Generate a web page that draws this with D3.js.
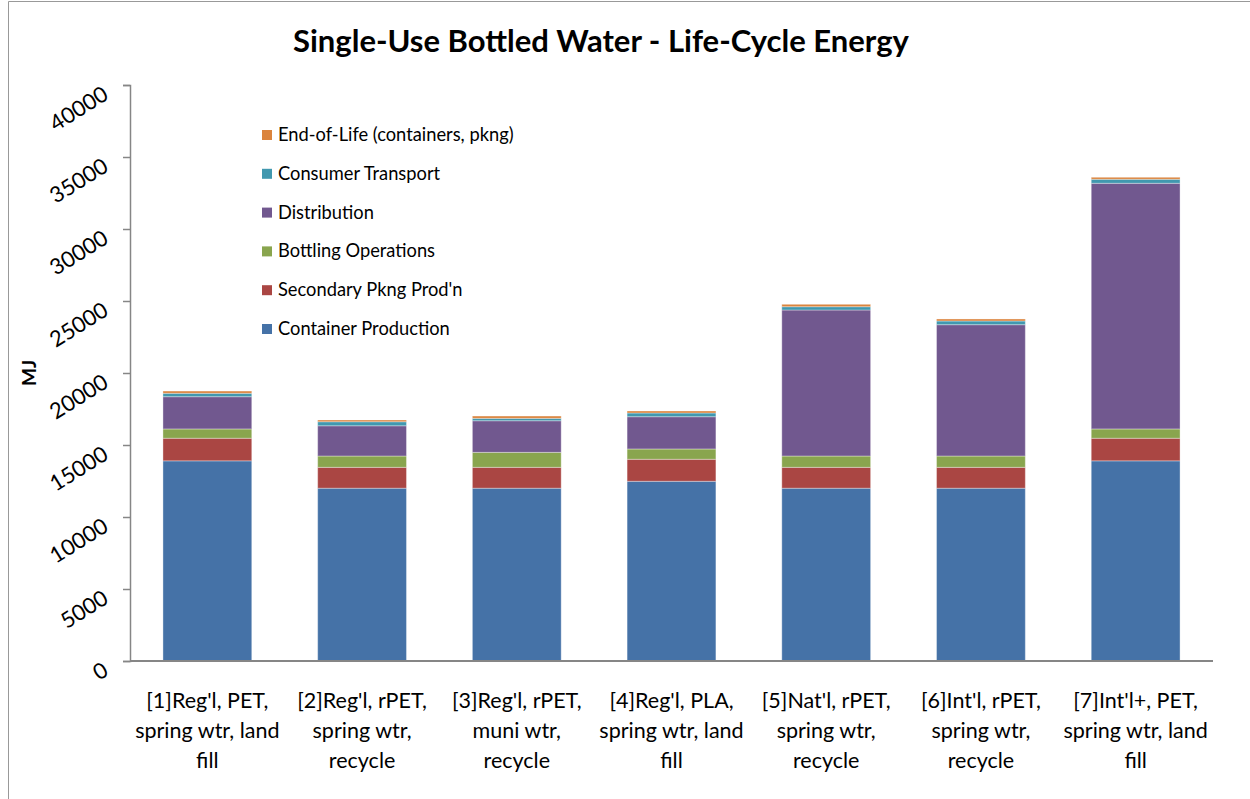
<!DOCTYPE html>
<html>
<head>
<meta charset="utf-8">
<script src="https://cdn.jsdelivr.net/npm/d3@7"></script>
<style>
  body { margin: 0; background: #fff; }
  svg { font-family: Lato, "Open Sans", sans-serif; }
</style>
</head>
<body>
<div id="chart"></div>
<script>
const categories = ["c1", "c2", "c3", "c4", "c5", "c6", "c7"];
const categoryLines = [
    ["[1]Reg'l, PET,", "spring wtr,  land", "fill"],
    ["[2]Reg'l, rPET,", "spring wtr,", "recycle"],
    ["[3]Reg'l, rPET,", "muni wtr,", "recycle"],
    ["[4]Reg'l, PLA,", "spring wtr,  land", "fill"],
    ["[5]Nat'l,  rPET,", "spring wtr,", "recycle"],
    ["[6]Int'l, rPET,", "spring wtr,", "recycle"],
    ["[7]Int'l+, PET,", "spring wtr, land", "fill"]
];
const seriesNames = ["Container Production", "Secondary Pkng Prod'n", "Bottling Operations",
    "Distribution", "Consumer Transport", "End-of-Life (containers, pkng)"];
const containerProduction = [13900, 12000, 12000, 12480, 12000, 12000, 13900];
const secondaryPkng       = [1570, 1450, 1450, 1530, 1450, 1450, 1570];
const bottlingOperations  = [645, 785, 1040, 715, 785, 785, 645];
const distribution        = [2240, 2100, 2195, 2240, 10140, 9120, 17060];
const consumerTransport   = [236, 280, 166, 257, 229, 257, 278];
const endOfLife           = [155, 120, 160, 139, 167, 139, 139];
const yTicks = [0, 5000, 10000, 15000, 20000, 25000, 30000, 35000, 40000];
const colors = ["#4572A7", "#AA4643", "#89A54E", "#71588F", "#4198AF", "#DB843D"];

const W = 1250, H = 799;
const margin = { top: 85, right: 37, bottom: 138, left: 130 };

const svg = d3.select("#chart").append("svg")
    .attr("width", W)
    .attr("height", H);

// chart frame
svg.append("path")
    .attr("d", `M8.5,${H} V1.5 H${W}`)
    .attr("fill", "none")
    .attr("stroke", "#999")
    .attr("stroke-width", 1);

const rows = categories.map((c, i) => ({
    cat: c,
    s0: containerProduction[i], s1: secondaryPkng[i], s2: bottlingOperations[i],
    s3: distribution[i], s4: consumerTransport[i], s5: endOfLife[i]
}));
const keys = ["s0", "s1", "s2", "s3", "s4", "s5"];
const stacked = d3.stack().keys(keys)(rows);

const x = d3.scaleBand()
    .domain(categories)
    .range([margin.left, W - margin.right])
    .paddingInner(0.426)
    .paddingOuter(0.213);

const y = d3.scaleLinear()
    .domain([0, 40000])
    .range([H - margin.bottom, margin.top]);

// bars
svg.append("g").selectAll("g")
    .data(stacked)
    .join("g")
        .attr("fill", (d, i) => colors[i])
    .selectAll("rect")
    .data(d => d)
    .join("rect")
        .attr("x", d => x(d.data.cat))
        .attr("y", d => y(d[1]))
        .attr("width", x.bandwidth())
        .attr("height", d => y(d[0]) - y(d[1]))
        .attr("stroke", "#fff")
        .attr("stroke-opacity", 0.35)
        .attr("stroke-width", 1);

// y axis
const yAxis = svg.append("g")
    .attr("transform", `translate(${margin.left},0)`)
    .call(d3.axisLeft(y).tickValues(yTicks).tickSize(7).tickFormat(d3.format("d")));
yAxis.select(".domain").attr("stroke", "#868686").attr("stroke-width", 1.5);
yAxis.selectAll(".tick line").attr("stroke", "#868686").attr("stroke-width", 1.5);
yAxis.selectAll(".tick text")
    .attr("font-size", 22)
    .attr("fill", "#000")
    .attr("font-family", "Lato, sans-serif")
    .attr("text-anchor", "end")
    .attr("x", -28)
    .attr("dy", 15)
    .attr("transform", "rotate(-32,-28,0)");

// x axis line
svg.append("line")
    .attr("x1", margin.left).attr("x2", W - margin.right)
    .attr("y1", y(0)).attr("y2", y(0))
    .attr("stroke", "#868686").attr("stroke-width", 2);

// category labels
const catLabels = svg.append("g").selectAll("text")
    .data(categories)
    .join("text")
        .attr("text-anchor", "middle")
        .attr("font-size", 21.5)
        .attr("fill", "#000")
        .attr("x", d => x(d) + x.bandwidth() / 2)
        .attr("y", y(0) + 47);
catLabels.selectAll("tspan")
    .data((d, i) => categoryLines[i])
    .join("tspan")
        .attr("x", function() { return this.parentNode.getAttribute("x"); })
        .attr("dy", (d, i) => i === 0 ? 0 : 30)
        .text(d => d);

// y title
svg.append("text")
    .attr("transform", `translate(36,${(y(0) + y(40000)) / 2}) rotate(-90)`)
    .attr("text-anchor", "middle")
    .attr("font-size", 19)
    .attr("font-weight", "bold")
    .text("MJ");

// title
svg.append("text")
    .attr("x", 601)
    .attr("y", 52)
    .attr("text-anchor", "middle")
    .attr("font-size", 31)
    .attr("font-weight", "bold")
    .text("Single-Use Bottled Water - Life-Cycle Energy");

// legend (top item is last series)
const legendOrder = d3.range(seriesNames.length).reverse();
const legend = svg.append("g").selectAll("g")
    .data(legendOrder)
    .join("g")
        .attr("transform", (d, i) => `translate(262,${135 + i * 38.8})`);
legend.append("rect")
    .attr("x", 0).attr("y", -5)
    .attr("width", 10).attr("height", 10)
    .attr("fill", d => colors[d]);
legend.append("text")
    .attr("x", 16)
    .attr("y", 6)
    .attr("font-size", 18.3)
    .attr("fill", "#000")
    .text(d => seriesNames[d]);
</script>
</body>
</html>
